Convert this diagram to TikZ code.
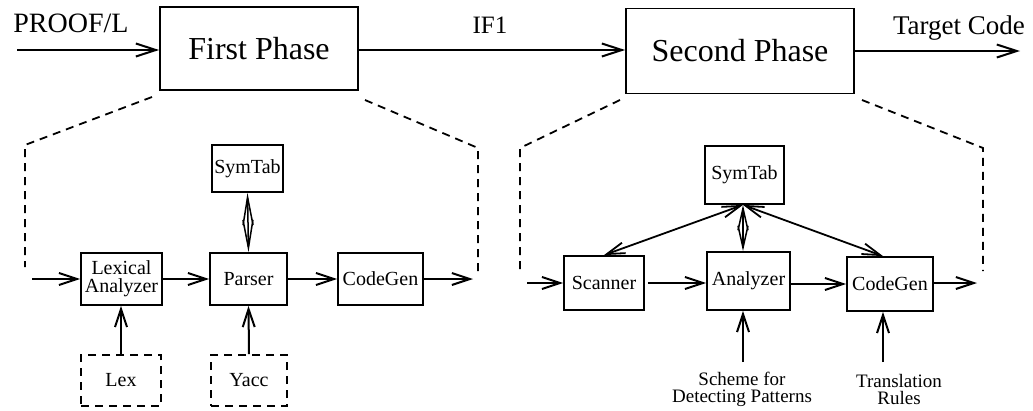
\documentclass[tikz,border=0pt]{standalone}
\usepackage{fontspec}
\setmainfont{Liberation Serif}
\usetikzlibrary{arrows.meta,calc}
\begin{document}
\begin{tikzpicture}[x=1pt,y=-1pt,
  phase/.style={draw,line width=1.8pt,inner sep=0pt,font=\fontsize{32}{34}\selectfont},
  blk/.style={draw,line width=1.8pt,inner sep=0pt,align=center,font=\fontsize{20}{18}\selectfont},
  dblk/.style={blk,dash pattern=on 8pt off 6pt},
  dsh/.style={line width=1.8pt,dash pattern=on 8pt off 6pt},
  arr/.style={line width=2pt,-{Straight Barb[length=18pt,width=12pt]}},
  bigarr/.style={line width=2pt,-{Straight Barb[length=20pt,width=13pt]}},
  biarr/.style={line width=1.8pt,{Straight Barb[length=18pt,width=11pt]}-{Straight Barb[length=18pt,width=11pt]}},
  dbl/.style={line width=1.5pt,{Straight Barb[length=#1,width=10pt]}-{Straight Barb[length=#1,width=10pt]}},
  sml/.style={align=center,inner sep=0pt,font=\fontsize{19}{17}\selectfont}
]
\useasboundingbox (0,0) rectangle (1033,410);

% top level
\node[phase,minimum width=198pt,minimum height=83pt] (first) at (259,48.5) {First Phase};
\node[phase,minimum width=228pt,minimum height=85pt] (second) at (740,51) {Second Phase};
\coordinate (pin) at (17,50);
\coordinate (tout) at (1020,51);
\node[inner sep=0pt,font=\fontsize{28}{30}\selectfont] (proof) at (71,23) {PROOF/L};
\node[inner sep=0pt,font=\fontsize{25}{27}\selectfont] (if1) at (490,25) {IF1};
\node[inner sep=0pt,font=\fontsize{27}{29}\selectfont] (tc) at (959,28) {Target Code};
\draw[bigarr] (pin) -- (pin -| first.west);
\draw[bigarr] (first.east |- 0,50) -- (second.west |- 0,50);
\draw[bigarr] (second.east |- tout) -- (tout);

% first phase detail
\node[blk,minimum width=81pt,minimum height=52pt] (lexan) at (121.5,279) {Lexical\\Analyzer};
\node[blk,minimum width=77pt,minimum height=52pt] (parser) at (248.5,279) {Parser};
\node[blk,minimum width=85pt,minimum height=52pt] (cg1) at (380.5,279) {CodeGen};
\node[blk,minimum width=71pt,minimum height=47pt] (st1) at (247.5,168.5) {SymTab};
\node[dblk,minimum width=80pt,minimum height=51pt] (lex) at (121,380.5) {Lex};
\node[dblk,minimum width=76pt,minimum height=51pt] (yacc) at (249,380.5) {Yacc};
\coordinate (in1) at (32,279);
\coordinate (out1) at (473,279);

\draw[dsh] (152,97) -- (25,145) -- (25,267);
\draw[dsh] (365,100) -- (478,148) -- (478,271);

\draw[arr] (in1) -- (lexan.west);
\draw[arr] (lexan.east) -- (parser.west);
\draw[arr] (parser.east) -- (cg1.west);
\draw[arr] (cg1.east) -- (out1);
\draw[dbl=28pt] (st1.south) -- (parser.north);
\draw[arr] (lex.north) -- (lexan.south -| lex.north);
\draw[arr] (yacc.north) -- (parser.south);

% second phase detail
\node[blk,minimum width=80pt,minimum height=54pt] (scanner) at (604,283) {Scanner};
\node[blk,minimum width=83pt,minimum height=58pt] (analyzer) at (748.5,281) {Analyzer};
\node[blk,minimum width=86pt,minimum height=54pt] (cg2) at (890,284) {CodeGen};
\node[blk,minimum width=79pt,minimum height=58pt] (st2) at (744.5,175) {SymTab};
\coordinate (in2) at (527,283);
\coordinate (out2) at (977,283);
\coordinate (scheme) at (743,362);
\coordinate (trans) at (883,362);
\node[sml] (schemel) at (742,389) {Scheme for\\Detecting Patterns};
\node[sml] (transl) at (899,389) {Translation\\Rules};

\draw[dsh] (620,100) -- (520,148) -- (520,273);
\draw[dsh] (862,100) -- (983,148) -- (983,271);

\draw[arr] (in2) -- (scanner.west);
\draw[arr] ([xshift=3pt]scanner.east) -- (analyzer.west |- scanner.east);
\draw[arr] (analyzer.east |- cg2.west) -- (cg2.west);
\draw[arr] (cg2.east |- out2) -- (out2);
\draw[dbl=22pt] (st2.south -| scheme) -- (analyzer.north -| scheme);
\draw[biarr] (st2.south -| scheme) -- (scanner.north);
\draw[biarr] (st2.south -| scheme) -- (cg2.north -| trans);
\draw[arr] (scheme) -- (analyzer.south -| scheme);
\draw[arr] (trans) -- (cg2.south -| trans);
\end{tikzpicture}
\end{document}
